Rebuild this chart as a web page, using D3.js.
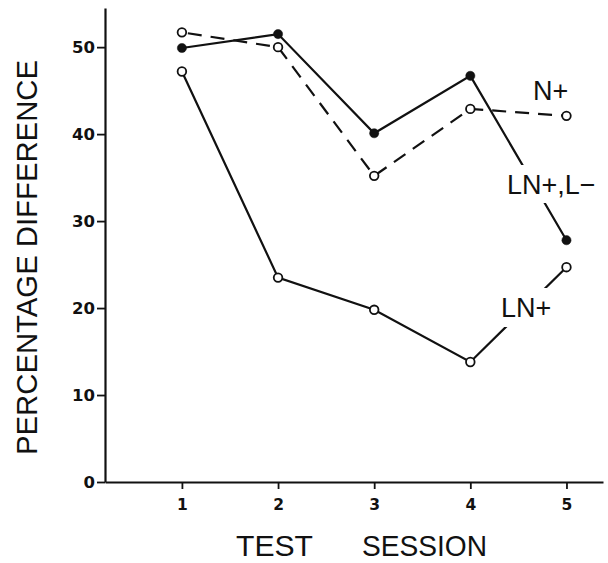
<!DOCTYPE html>
<html>
<head>
<meta charset="utf-8">
<script src="https://cdn.jsdelivr.net/npm/d3@7"></script>
<style>
  html, body { margin: 0; padding: 0; background: #fff; }
  svg { display: block; }
</style>
</head>
<body>
<script>
// ---- data ----
const sessions = [1, 2, 3, 4, 5];
const lnPlusLMinus = [49.9, 51.5, 40.1, 46.7, 27.8];   // filled circles, solid line
const nPlus = [51.7, 50.0, 35.2, 42.9, 42.1];          // open circles, dashed line
const lnPlus = [47.2, 23.5, 19.8, 13.8, 24.7];         // open circles, solid line
const yTicks = [0, 10, 20, 30, 40, 50];
const xTicks = [1, 2, 3, 4, 5];
const seriesLabels = ["N+", "LN+,L\u2212", "LN+"];

const W = 608, H = 563;
const svg = d3.select("body").append("svg").attr("width", W).attr("height", H);

const x = d3.scaleLinear().domain([0.2, 5.38]).range([105, 603]);
const y = d3.scaleLinear().domain([0, 54.5]).range([482, 8]);

const ink = "#111";

// axes
const yAxis = d3.axisLeft(y).tickValues(yTicks).tickFormat(d3.format("d"))
  .tickSize(8).tickSizeOuter(0).tickPadding(2);
const xAxis = d3.axisBottom(x).tickValues(xTicks).tickFormat(d3.format("d"))
  .tickSize(7).tickSizeOuter(0).tickPadding(10);

const gy = svg.append("g").attr("transform", `translate(${x(0.2)},0)`).call(yAxis);
const gx = svg.append("g").attr("transform", `translate(0,${y(0)})`).call(xAxis);
[gy, gx].forEach(g => {
  g.select(".domain").attr("stroke", ink).attr("stroke-width", 2.2);
  g.selectAll(".tick line").attr("stroke", ink).attr("stroke-width", 1.8);
  g.selectAll(".tick text").attr("fill", ink)
    .attr("font-family", "DejaVu Sans, sans-serif").attr("font-weight", "bold");
});
gy.selectAll(".tick text").attr("font-size", 16.5);
gx.selectAll(".tick text").attr("font-size", 15.5);

// axis titles
svg.append("text")
  .attr("transform", `translate(37,${(60 + 455) / 2}) rotate(-90)`)
  .attr("text-anchor", "middle")
  .attr("font-family", "Liberation Sans, Arial, sans-serif")
  .attr("font-size", 30).attr("fill", ink)
  .attr("textLength", 395).attr("lengthAdjust", "spacingAndGlyphs")
  .text("PERCENTAGE DIFFERENCE");

svg.append("text").attr("x", 236).attr("y", 556)
  .attr("font-family", "Liberation Sans, Arial, sans-serif")
  .attr("font-size", 30).attr("fill", ink)
  .attr("textLength", 77).attr("lengthAdjust", "spacingAndGlyphs")
  .text("TEST");
svg.append("text").attr("x", 362).attr("y", 556)
  .attr("font-family", "Liberation Sans, Arial, sans-serif")
  .attr("font-size", 30).attr("fill", ink)
  .attr("textLength", 125).attr("lengthAdjust", "spacingAndGlyphs")
  .text("SESSION");

// lines
const line = d3.line().x(d => x(d[0])).y(d => y(d[1]));
const pts = vals => sessions.map((s, i) => [s, vals[i]]);

svg.append("path").datum(pts(nPlus)).attr("d", line)
  .attr("fill", "none").attr("stroke", ink).attr("stroke-width", 2.2)
  .attr("stroke-dasharray", "14,9").attr("stroke-dashoffset", -6);
svg.append("path").datum(pts(lnPlusLMinus)).attr("d", line)
  .attr("fill", "none").attr("stroke", ink).attr("stroke-width", 2.2);
svg.append("path").datum(pts(lnPlus)).attr("d", line)
  .attr("fill", "none").attr("stroke", ink).attr("stroke-width", 2.2);

// markers
const drawMarkers = (vals, filled) => {
  svg.append("g").selectAll("circle").data(pts(vals)).join("circle")
    .attr("cx", d => x(d[0])).attr("cy", d => y(d[1]))
    .attr("r", filled ? 4.6 : 4.3)
    .attr("fill", filled ? ink : "#fff")
    .attr("stroke", ink).attr("stroke-width", filled ? 0.5 : 1.8);
};
drawMarkers(nPlus, false);
drawMarkers(lnPlus, false);
drawMarkers(lnPlusLMinus, true);

// series labels (white backing breaks the lines like the original)
const labelFont = "Liberation Sans, Arial, sans-serif";
svg.append("rect").attr("x", 500).attr("y", 165).attr("width", 98).attr("height", 38).attr("fill", "#fff");
svg.append("rect").attr("x", 498).attr("y", 288).attr("width", 58).attr("height", 39).attr("fill", "#fff");

svg.append("text").attr("x", 533).attr("y", 100)
  .attr("font-family", labelFont).attr("font-size", 27).attr("fill", ink)
  .text(seriesLabels[0]);
svg.append("text").attr("x", 507).attr("y", 194)
  .attr("font-family", labelFont).attr("font-size", 27).attr("fill", ink)
  .text(seriesLabels[1]);
svg.append("text").attr("x", 501).attr("y", 317)
  .attr("font-family", labelFont).attr("font-size", 27).attr("fill", ink)
  .text(seriesLabels[2]);
</script>
</body>
</html>
